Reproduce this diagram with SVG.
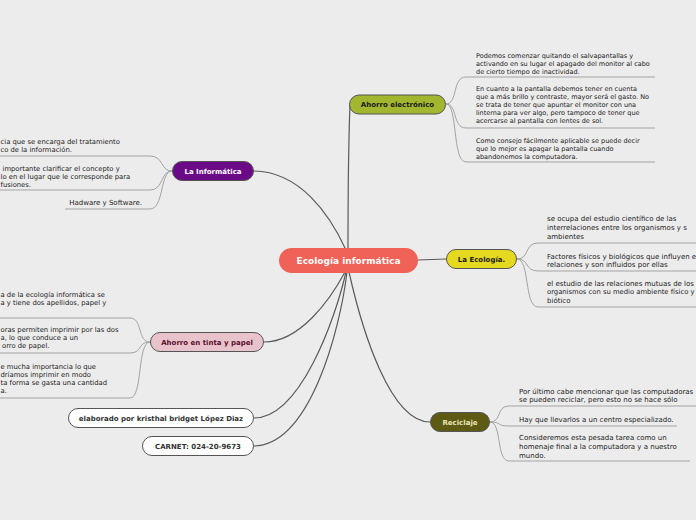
<svg xmlns="http://www.w3.org/2000/svg" width="696" height="520" viewBox="0 0 696 520">
<style>
.bg{fill:#ececec}
.main{stroke:#5a5a5a;stroke-width:1.2;fill:none}
.sub{stroke:#a3a3a3;stroke-width:1;fill:none}
.nt{font-family:"DejaVu Sans",Verdana,sans-serif;font-weight:bold;font-size:7px;text-anchor:middle}
.t{font-family:"DejaVu Sans",Verdana,sans-serif;font-size:6.5px;fill:#222}
.t7{font-family:"DejaVu Sans",Verdana,sans-serif;font-size:7px;fill:#222}
.tl{font-family:"DejaVu Sans",Verdana,sans-serif;font-size:6.8px;fill:#222}
.te{font-family:"DejaVu Sans",Verdana,sans-serif;font-size:7px;fill:#222}
.e{text-anchor:end}
.box{stroke:#555;stroke-width:1}
</style>
<rect class="bg" x="0" y="0" width="696" height="520"/>
<g id="connectors">
<path class="main" d="M348,250 C348,190 349,130 350,104"/>
<path class="main" d="M253,171 C300,171 330,215 346,250"/>
<path class="main" d="M418,260 L446,259"/>
<path class="main" d="M264,342 C300,342 330,300 345,272"/>
<path class="main" d="M254,418 C300,418 335,320 346,272"/>
<path class="main" d="M253,446 C310,446 340,330 347,272"/>
<path class="main" d="M349,272 C362,330 390,422 430,422"/>
<path class="sub" d="M446,104 C458,104 452,77 466,77 H655"/>
<path class="sub" d="M446,104 C458,104 452,128 466,128 H655"/>
<path class="sub" d="M446,104 C458,104 452,162 466,162 H655"/>
<path class="sub" d="M517,259 C530,259 524,243 538,243 H696"/>
<path class="sub" d="M517,259 C530,259 524,271 538,271 H696"/>
<path class="sub" d="M517,259 C530,259 524,307 538,307 H696"/>
<path class="sub" d="M490,422 C502,422 496,406 509,406 H696"/>
<path class="sub" d="M490,422 C502,422 496,426 509,426 H677"/>
<path class="sub" d="M490,422 C502,422 496,461 509,461 H690"/>
<path class="sub" d="M172,171 C160,171 164,156 150,156 H0"/>
<path class="sub" d="M172,171 C160,171 164,190 150,190 H0"/>
<path class="sub" d="M172,171 C160,171 164,209 150,209 H65"/>
<path class="sub" d="M150,342 C137,342 143,318 130,318 H0"/>
<path class="sub" d="M150,342 C137,342 143,353 130,353 H0"/>
<path class="sub" d="M150,342 C137,342 143,398 130,398 H0"/>
</g>
<g id="central">
<rect x="279" y="248" width="139" height="25" rx="12.5" fill="#f06158"/>
<text class="nt" x="348.5" y="263.8" fill="#fff" style="font-size:9px">Ecología informática</text>
</g>
<g id="ahorro-electronico">
<rect class="box" x="349.5" y="95" width="96" height="19" rx="9.5" fill="#a2b630"/>
<text class="nt" x="397.5" y="107" fill="#1a1a1a">Ahorro electrónico</text>
<text class="t" x="476" y="57.5">Podemos comenzar quitando el salvapantallas y</text>
<text class="t" x="476" y="65.5">activando en su lugar el apagado del monitor al cabo</text>
<text class="t" x="476" y="73.5">de cierto tiempo de inactividad.</text>
<text class="t" x="476" y="90.5">En cuanto a la pantalla debemos tener en cuenta</text>
<text class="t" x="476" y="98.5">que a más brillo y contraste, mayor será el gasto. No</text>
<text class="t" x="476" y="106.5">se trata de tener que apuntar el monitor con una</text>
<text class="t" x="476" y="114.5">linterna para ver algo, pero tampoco de tener que</text>
<text class="t" x="476" y="122.5">acercarse al pantalla con lentes de sol.</text>
<text class="t" x="476" y="142.5">Como consejo fácilmente aplicable se puede decir</text>
<text class="t" x="476" y="150.5">que lo mejor es apagar la pantalla cuando</text>
<text class="t" x="476" y="158.5">abandonemos la computadora.</text>
</g>
<g id="la-informatica">
<rect class="box" x="172.5" y="161.5" width="81" height="19" rx="9.5" fill="#6a0a87"/>
<text class="nt" x="213" y="173.8" fill="#fff">La Informática</text>
<text class="tl" x="0.5" y="143.5">cia que se encarga del tratamiento</text>
<text class="tl" x="0.5" y="151.5">co de la información.</text>
<text class="tl" x="2.5" y="170.5">importante clarificar el concepto y</text>
<text class="tl" x="0.5" y="178.5">lo en el lugar que le corresponde para</text>
<text class="tl" x="0.5" y="186.5">fusiones.</text>
<text class="t7 e" x="142" y="204.5">Hadware y Software.</text>
</g>
<g id="la-ecologia">
<rect class="box" x="446.5" y="249.5" width="70" height="19" rx="9.5" fill="#e4d91f"/>
<text class="nt" x="481.5" y="261.8" fill="#1a1a1a">La Ecología.</text>
<text class="te" x="547" y="220.5">se ocupa del estudio científico de las</text>
<text class="te" x="547" y="229.5">interrelaciones entre los organismos y s</text>
<text class="te" x="547" y="238.5">ambientes</text>
<text class="te" x="547" y="258.5">Factores físicos y biológicos que influyen e</text>
<text class="te" x="547" y="266.5">relaciones y son influidos por ellas</text>
<text class="te" x="547" y="285.5">el estudio de las relaciones mutuas de los</text>
<text class="te" x="547" y="293.5" style="font-size:6.8px">organismos con su medio ambiente físico y</text>
<text class="te" x="547" y="302.5">biótico</text>
</g>
<g id="ahorro-tinta-papel">
<rect class="box" x="150.5" y="332.5" width="113" height="19" rx="9.5" fill="#e8c3cb"/>
<text class="nt" x="207" y="344.8" fill="#5a0f2c">Ahorro en tinta y papel</text>
<text class="tl" x="0.5" y="296.5">a de la ecología informática se</text>
<text class="tl" x="0.5" y="304.5">a y tiene dos apellidos, papel y</text>
<text class="tl" x="0.5" y="331.5">oras permiten imprimir por las dos</text>
<text class="tl" x="0.5" y="339.5">a, lo que conduce a un</text>
<text class="tl" x="2" y="347.5">orro de papel.</text>
<text class="tl" x="0.5" y="368.5">e mucha importancia lo que</text>
<text class="tl" x="0.5" y="376.5">dríamos imprimir en modo</text>
<text class="tl" x="0.5" y="384.5">ta forma se gasta una cantidad</text>
<text class="tl" x="0.5" y="393">a.</text>
</g>
<g id="reciclaje">
<rect class="box" x="430.5" y="412.5" width="59" height="19" rx="9.5" fill="#5e5913"/>
<text class="nt" x="460" y="424.8" fill="#ebe7b8">Reciclaje</text>
<text class="t7" x="519" y="393.5">Por último cabe mencionar que las computadoras</text>
<text class="t7" x="519" y="401.5">se pueden reciclar, pero esto no se hace sólo</text>
<text class="t7" x="519" y="421.5">Hay que llevarlos a un centro especializado.</text>
<text class="t7" x="519" y="439.5">Consideremos esta pesada tarea como un</text>
<text class="t7" x="519" y="448.5">homenaje final a la computadora y a nuestro</text>
<text class="t7" x="519" y="457.5">mundo.</text>
</g>
<g id="elaborado">
<rect class="box" x="68.5" y="408.5" width="185" height="19" rx="9.5" fill="#fff"/>
<text class="nt" x="161" y="420.8" fill="#333">elaborado por kristhal bridget López Diaz</text>
</g>
<g id="carnet">
<rect class="box" x="142.5" y="436.5" width="111" height="19" rx="9.5" fill="#fff"/>
<text class="nt" x="198" y="448.8" fill="#333">CARNET: 024-20-9673</text>
</g>
</svg>
